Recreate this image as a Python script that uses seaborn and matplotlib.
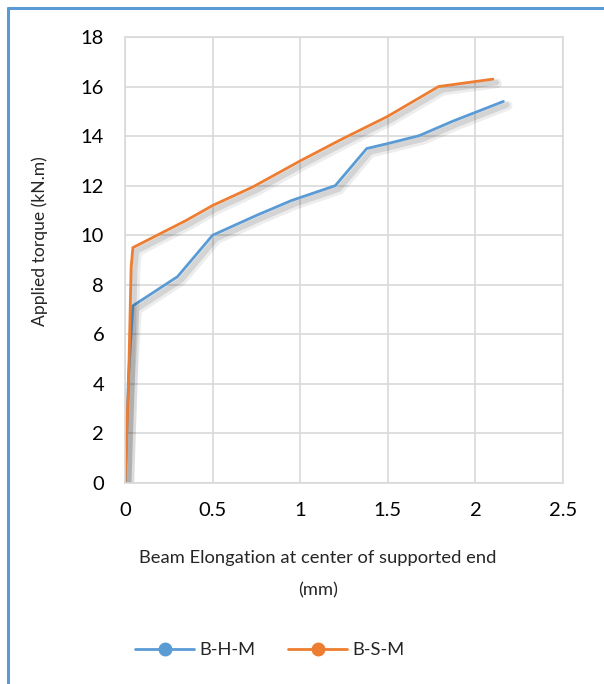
import matplotlib
matplotlib.use("Agg")
import matplotlib.pyplot as plt
import matplotlib.patheffects as pe
from matplotlib.lines import Line2D
import seaborn as sns
import pandas as pd

# Torque vs. elongation measurements for the two beams
bhm_elong = [0.0, 0.02, 0.045, 0.30, 0.50, 0.75, 0.95, 1.20, 1.38, 1.50, 1.68, 1.87, 2.16]
bhm_torque = [0.0, 4.3, 7.15, 8.33, 10.0, 10.8, 11.4, 12.0, 13.5, 13.7, 14.02, 14.6, 15.4]
bsm_elong = [0.0, 0.02, 0.035, 0.045, 0.35, 0.50, 0.73, 1.00, 1.23, 1.50, 1.79, 2.10]
bsm_torque = [0.0, 4.0, 8.7, 9.5, 10.6, 11.2, 11.95, 13.0, 13.85, 14.8, 16.0, 16.3]
series_names = ["B-H-M", "B-S-M"]
colors = ["#5B9BD5", "#ED7D31"]

x_ticks = [0, 0.5, 1, 1.5, 2, 2.5]
y_ticks = list(range(0, 19, 2))

df = pd.concat([
    pd.DataFrame({"elong": bhm_elong, "torque": bhm_torque, "series": series_names[0]}),
    pd.DataFrame({"elong": bsm_elong, "torque": bsm_torque, "series": series_names[1]}),
])

sns.set_theme(style="white")
plt.rcParams["font.family"] = ["Lato", "DejaVu Sans"]

fig = plt.figure(figsize=(6.04, 6.84), dpi=100)
ax = fig.add_axes([125 / 604, 1 - 483 / 684, 438 / 604, 446 / 684])

sns.lineplot(data=df, x="elong", y="torque", hue="series", palette=colors,
             sort=False, estimator=None, linewidth=2, ax=ax, legend=False)

shadow = [pe.SimpleLineShadow(offset=(3, -3), shadow_color="black", alpha=0.07, linewidth=7),
          pe.SimpleLineShadow(offset=(2.5, -2.5), shadow_color="black", alpha=0.1, linewidth=4),
          pe.Normal()]
for ln in ax.lines:
    ln.set_path_effects(shadow)
    ln.set_solid_joinstyle("miter")

ax.set_xlim(0, 2.5)
ax.set_ylim(0, 18)
ax.set_xticks(x_ticks)
ax.set_xticklabels(["0", "0.5", "1", "1.5", "2", "2.5"])
ax.set_yticks(y_ticks)
ax.grid(True, color="#d9d9d9", linewidth=1.2)
for s in ax.spines.values():
    s.set_visible(True)
    s.set_color("#d9d9d9")
    s.set_linewidth(1.2)
ax.tick_params(axis="both", labelsize=14.5, length=0, colors="black")
ax.tick_params(axis="x", pad=14)
ax.tick_params(axis="y", pad=15)
ax.set_xlabel("")
ax.set_ylabel("")

label_size = 13.2
fig.text(318 / 604, 1 - 558 / 684, "Beam Elongation at center of supported end",
         ha="center", va="center", fontsize=label_size)
fig.text(318 / 604, 1 - 590 / 684, "(mm)", ha="center", va="center", fontsize=label_size)
fig.text(40 / 604, 1 - 241 / 684, "Applied torque (kN.m)", rotation=90,
         ha="center", va="center", fontsize=12.6)

handles = [Line2D([0], [0], color=c, lw=2, marker="o", markersize=9) for c in colors]
fig.legend(handles, series_names, loc="center", bbox_to_anchor=(270 / 604, 1 - 650 / 684),
           ncol=2, frameon=False, fontsize=label_size, handlelength=3.2, columnspacing=1.8,
           handletextpad=0.3)

# outer frame strokes on the left and top
fig.add_artist(Line2D([8 / 604, 8 / 604], [0, 1 - 8 / 684], color="#5B9BD5", lw=2.2,
                      transform=fig.transFigure))
fig.add_artist(Line2D([8 / 604, 1], [1 - 8 / 684, 1 - 8 / 684], color="#5B9BD5", lw=2.2,
                      transform=fig.transFigure))

fig.savefig("out.png", dpi=100, facecolor="white")
